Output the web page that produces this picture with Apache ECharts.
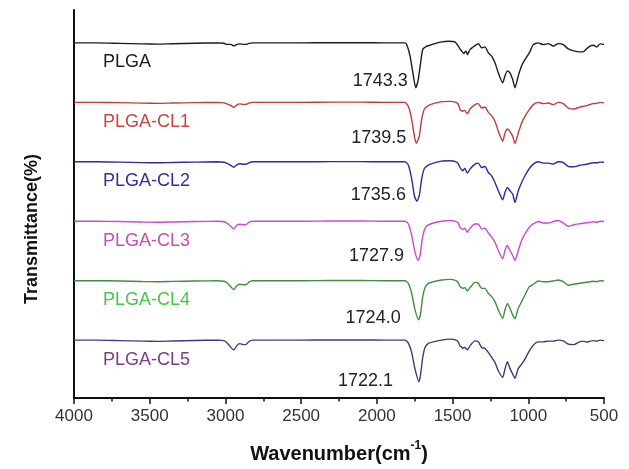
<!DOCTYPE html>
<html>
<head>
<meta charset="utf-8">
<script src="https://cdn.jsdelivr.net/npm/echarts@6.0.0/dist/echarts.min.js"></script>
<style>
  html, body { margin: 0; padding: 0; background: #ffffff; }
  #chart { width: 629px; height: 469px; }
</style>
</head>
<body>
<div id="chart"></div>
<script>
// ---------- FTIR spectra of PLGA and PLGA-CL blends ----------
// Transmittance values are relative to each trace's own baseline (0 = baseline).

const sampleNames = ['PLGA', 'PLGA-CL1', 'PLGA-CL2', 'PLGA-CL3', 'PLGA-CL4', 'PLGA-CL5'];
const carbonylPeaks = [1743.3, 1739.5, 1735.6, 1727.9, 1724.0, 1722.1];

// 4000-1850 cm-1 (O-H / C-H stretching region)
const highWn = [4000, 3850, 3700, 3550, 3450, 3350, 3200, 3050, 3010, 2990, 2965, 2945,
                2925, 2905, 2880, 2865, 2845, 2820, 2700, 2500, 2300, 2100, 1950, 1850];
const highPLGA = [0, 0, -0.5, -1, -1.2, -0.8, -0.3, 0, -0.3, -1.5, -1.5, -3, -1.5, -1, -1.5, -1.5, -0.5, 0, 0, 0, 0.2, 0.2, 0, 0];
const highCL1  = [0, 0, -0.3, -0.8, -1, -0.7, -0.3, 0, -0.5, -1.5, -3, -5, -2.5, -1.5, -2, -2, -0.7, 0, 0, 0, 0.2, 0.2, 0, 0];
const highCL2  = [0, 0, -0.3, -0.8, -1, -0.7, -0.3, 0, -0.5, -1.5, -3.5, -5.5, -3, -2, -2.5, -2.5, -1, 0, 0, 0, 0.2, 0.2, 0, 0];
const highCL3  = [0, 0, -0.3, -0.8, -1, -0.7, -0.3, 0, -0.5, -2, -5, -7.5, -4, -3, -3.5, -3.5, -1, 0, 0, 0, 0.2, 0.2, 0, 0];
const highCL4  = [0, 0, -0.3, -0.8, -1, -0.7, -0.3, 0, -0.5, -2, -6, -9, -5, -3.5, -4, -4, -1.5, 0, 0, 0, 0.2, 0.2, 0, 0];
const highCL5  = [0, 0, -0.5, -1, -1.2, -0.8, -0.3, 0, -0.5, -2.5, -7, -10, -5.5, -3.5, -4.5, -4.5, -1.5, 0, 0, 0, 0.2, 0.2, 0, 0];

// C=O stretching band, each sample with its own sampling around the peak
const coWnPLGA = [1814, 1803, 1781, 1759, 1743.3, 1727, 1711, 1697, 1671, 1649, 1616, 1572, 1528, 1484];
const coTPLGA  = [0, -1.7, -13, -33, -45, -37, -20, -6.7, -3.3, -2.3, -0.7, 1, 1.7, 1];
const coWnCL1  = [1814, 1792, 1770, 1752, 1739.5, 1720, 1704, 1686, 1660, 1627, 1572, 1517, 1477];
const coTCL1   = [0, -4, -17, -34, -41, -34, -17, -6.7, -3.3, -1.3, 0.7, 1, 0];
const coWnCL2  = [1814, 1792, 1770, 1752, 1735.6, 1720, 1704, 1686, 1660, 1627, 1572, 1517, 1477];
const coTCL2   = [0, -3.3, -17, -34, -39.7, -34, -17, -6.7, -3.3, -1.3, 0.7, 1, 0];
const coWnCL3  = [1814, 1792, 1770, 1748, 1727.9, 1715, 1700, 1682, 1660, 1627, 1572, 1517, 1477];
const coTCL3   = [0, -2.7, -14, -31, -39.3, -34.3, -17.7, -7, -3.7, -1.7, 0, 0.7, -0.3];
const coWnCL4  = [1814, 1792, 1770, 1748, 1724.0, 1711, 1697, 1682, 1660, 1627, 1572, 1517, 1477];
const coTCL4   = [0, -2.7, -12.7, -29.3, -39.3, -32.7, -16, -7, -2.7, -1, 0.7, 1.3, 0];
const coWnCL5  = [1814, 1792, 1770, 1748, 1722.1, 1711, 1697, 1682, 1660, 1627, 1572, 1517, 1477];
const coTCL5   = [0, -3, -12.3, -29, -41.7, -34, -17.3, -7.3, -3.3, -1.7, 0, 1, 0];

// Fingerprint region 1462-500 cm-1
const fpWn = [1462, 1451, 1440, 1433, 1425, 1418, 1411, 1402, 1385, 1352,
              1330, 1308, 1286, 1264, 1242, 1220, 1198, 1169, 1154, 1138,
              1121, 1103, 1088, 1066, 1044, 1022, 993, 967, 934, 901,
              868, 835, 802, 769, 736, 700, 660, 638, 614, 590,
              570, 548, 525, 500];
const fpPLGA = [-3.3, -6, -8.3, -9.5, -10.7, -9, -8.3, -11.7, -6.7, -2.7,
                -0.7, -5, -4, -10, -13.3, -20, -30, -40, -33, -28,
                -30, -36.7, -45, -33, -23, -16.7, -10, -1.7, 0, -1.7,
                -0.7, -3.3, -0.7, -1.7, -6, -8, -9, -9, -5.7, -3,
                -2.3, -4, -1, -1.5];
const fpCL1 = [-2, -7.3, -8.5, -9, -8, -8, -10, -11.3, -6.7, -2.3,
               -1.3, -5.7, -4.7, -10, -13.3, -19, -29, -39, -30.7, -26.7,
               -29, -34, -41.3, -30.7, -20.7, -14, -7.3, -2.3, 0, -1.3,
               -0.7, -2.3, 0, -1.3, -5.7, -6.7, -4.7, -4, -3.3, -2,
               -1.3, -1, 0, -0.5];
const fpCL2 = [-2, -5.7, -8, -9, -7.5, -6.7, -9, -11.3, -7.3, -2.3,
               -1.3, -5.7, -4.7, -10.7, -14, -20.7, -29, -38, -30.7, -25.7,
               -29, -32.3, -40.7, -29, -20.7, -14, -6.7, -2.3, 0, -1.3,
               -1.3, -2.3, 0, -0.7, -4.7, -5, -3.5, -3, -2.5, -1.5,
               -1, -1, -0.3, -0.5];
const fpCL3 = [-2, -6, -7.5, -8.3, -7.5, -7, -9, -11, -7, -2.7,
               -2.7, -7.7, -7, -11.7, -16, -21, -29.3, -37.7, -29.3, -24.3,
               -29.3, -34.3, -39.3, -29.3, -19.3, -12.7, -6, -2.7, -0.3, -1.7,
               -1.7, -0.3, 0.7, -1.7, -5, -3.5, -2.5, -2, -1.5, -1,
               -0.5, -1, 0, -0.3];
const fpCL4 = [-2, -6, -7, -7.7, -7.3, -7, -8.5, -10.3, -7, -1.7,
               -2.7, -7.7, -7.7, -12.7, -16, -21, -29.3, -37.7, -29.3, -22.7,
               -27.7, -34.3, -38.3, -27.7, -21, -14.3, -6, -3.7, -0.3, -1,
               -1, -0.3, 0.7, -1, -4.5, -3.5, -2.5, -2, -1.5, -1,
               -0.5, -1, 0, -0.3];
const fpCL5 = [-2, -5.7, -7, -8.3, -7.3, -7.3, -8.5, -9.7, -5.7, -0.7,
               -1.7, -7.3, -8.3, -12.3, -17.3, -22.3, -30.7, -37.3, -29, -21.7,
               -28.3, -34, -38.3, -28.3, -24, -19, -10.7, -5, -1.7, -1.7,
               -1, -1, 0, -0.7, -4, -4.5, -1.5, -1, -2, -1,
               -0.5, -1, 0, -0.5];

const xTicks = [4000, 3500, 3000, 2500, 2000, 1500, 1000, 500];

// ---------- presentation ----------
const FONT = '"Liberation Sans", Arial, Helvetica, sans-serif';
const lineColors  = ['#1c1c1c', '#c23b3b', '#2c2c98', '#cc48cc', '#3f8f3f', '#3c3c7a'];
const labelColors = ['#1c1c1c', '#cc4444', '#30309a', '#c04fb8', '#46c846', '#7a3d80'];
const Y_SPAN = 389;           // vertical extent of the stacked plot
const STACK_STEP = 59.6;      // spacing between stacked traces
const STACK_BOTTOM = 58;      // baseline of the lowest trace
const NAME_WN = 3808;         // where the sample names start
const NAME_DROP = 19.5;       // names sit this far under their baseline
const peakLabelGap  = [8, 10, 11, 14, 18, 26];
const peakLabelRise = [-7, -5, -6, -4, -2, -1];

const highSets = [highPLGA, highCL1, highCL2, highCL3, highCL4, highCL5];
const coWnSets = [coWnPLGA, coWnCL1, coWnCL2, coWnCL3, coWnCL4, coWnCL5];
const coTSets  = [coTPLGA, coTCL1, coTCL2, coTCL3, coTCL4, coTCL5];
const fpSets   = [fpPLGA, fpCL1, fpCL2, fpCL3, fpCL4, fpCL5];

function buildSeries(i) {
  const base = STACK_BOTTOM + (sampleNames.length - 1 - i) * STACK_STEP;
  const pts = [];
  highWn.forEach((w, k) => pts.push([w, base + highSets[i][k]]));
  coWnSets[i].forEach((w, k) => pts.push([w, base + coTSets[i][k]]));
  fpWn.forEach((w, k) => pts.push([w, base + fpSets[i][k]]));

  const peakIdx = coWnSets[i].indexOf(carbonylPeaks[i]);
  const peakY = base + coTSets[i][peakIdx];

  return {
    name: sampleNames[i],
    type: 'line',
    data: pts,
    showSymbol: false,
    smooth: 0.2,
    silent: true,
    lineStyle: { color: lineColors[i], width: 1.4 },
    itemStyle: { color: lineColors[i] },
    z: 3,
    markPoint: {
      symbol: 'circle',
      symbolSize: 0,
      silent: true,
      animation: false,
      data: [
        {
          coord: [carbonylPeaks[i], peakY],
          label: {
            show: true,
            position: 'left',
            distance: peakLabelGap[i],
            offset: [0, peakLabelRise[i]],
            formatter: carbonylPeaks[i].toFixed(1),
            fontFamily: FONT,
            fontSize: 18,
            color: '#222222'
          }
        },
        {
          coord: [NAME_WN, base - NAME_DROP],
          label: {
            show: true,
            position: 'right',
            distance: 0,
            formatter: sampleNames[i],
            fontFamily: FONT,
            fontSize: 18,
            color: labelColors[i]
          }
        }
      ]
    }
  };
}

const chart = echarts.init(document.getElementById('chart'), null, { renderer: 'canvas' });

chart.setOption({
  animation: false,
  backgroundColor: '#ffffff',
  grid: { left: 74, right: 25, top: 10, bottom: 70 },
  xAxis: {
    type: 'value',
    inverse: true,
    min: 500,
    max: 4000,
    interval: 500,
    name: '{t|Wavenumber(cm}{s|-1}{t|)}',
    nameLocation: 'middle',
    nameGap: 42,
    nameTextStyle: {
      rich: {
        t: { fontFamily: FONT, fontSize: 20, fontWeight: 'bold', color: '#111111', lineHeight: 24, verticalAlign: 'bottom' },
        s: { fontFamily: FONT, fontSize: 12, fontWeight: 'bold', color: '#111111', lineHeight: 24, verticalAlign: 'top' }
      }
    },
    axisLine: { show: true, onZero: false, lineStyle: { color: '#111111', width: 2 } },
    axisTick: { show: true, inside: false, length: 6, lineStyle: { color: '#111111', width: 1.5 } },
    minorTick: { show: true, splitNumber: 2, length: 3.5, lineStyle: { color: '#111111', width: 1.5 } },
    axisLabel: {
      fontFamily: FONT,
      fontSize: 17,
      color: '#333333',
      margin: 10,
      formatter: v => (xTicks.indexOf(v) >= 0 ? String(v) : '')
    },
    splitLine: { show: false }
  },
  yAxis: {
    type: 'value',
    min: 0,
    max: Y_SPAN,
    axisLine: { show: true, onZero: false, lineStyle: { color: '#111111', width: 2 } },
    axisTick: { show: false },
    axisLabel: { show: false },
    splitLine: { show: false }
  },
  graphic: [
    {
      type: 'text',
      x: 32,
      y: 229,
      rotation: Math.PI / 2,
      style: {
        text: 'Transmittance(%)',
        font: 'bold 18px ' + FONT,
        fill: '#111111',
        textAlign: 'center',
        textVerticalAlign: 'middle'
      }
    }
  ],
  series: sampleNames.map((_, i) => buildSeries(i))
});
</script>
</body>
</html>
